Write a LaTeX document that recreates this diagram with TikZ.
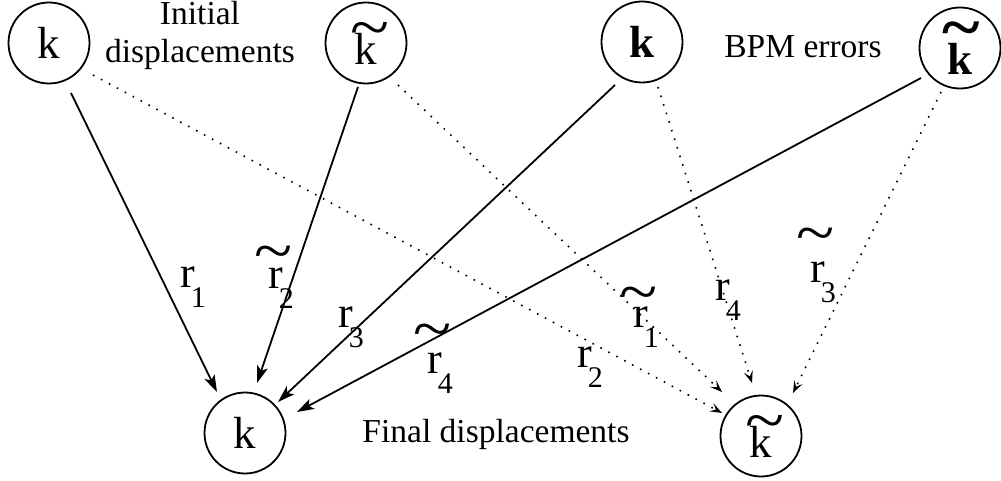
\documentclass[tikz,border=0pt]{standalone}
\usepackage{fontspec}
\setmainfont{Liberation Serif}
\usepackage{graphicx}
\usetikzlibrary{arrows.meta}

\newcommand\myTil{\scalebox{1.6}[1.4]{\textasciitilde}}
\newcommand\myK{{\fontsize{45}{45}\selectfont k}}
\newcommand\myKt[1]{{\fontsize{45}{45}\selectfont\makebox[0pt][l]{\kern-4.7pt\raisebox{#1}{\myTil}}k}}
\newcommand\myR[1]{{\fontsize{44}{44}\selectfont r}\kern-4pt\raisebox{-20pt}{\fontsize{30}{30}\selectfont #1}}
\newcommand\myRt[2]{{\fontsize{44}{44}\selectfont\makebox[0pt][l]{\kern-13.5pt\raisebox{#2}{\myTil}}r}\kern-4pt\raisebox{-20pt}{\fontsize{30}{30}\selectfont #1}}

\tikzset{
  var/.style={circle, draw, line width=1.8pt, minimum size=81pt, inner sep=0pt},
  lbl/.style={inner sep=0pt, anchor=base west},
  txt/.style={inner sep=0pt, anchor=base, font=\fontsize{33.5}{38}\selectfont, align=center},
  sol/.style={line width=1.8pt, -{Stealth[length=17pt,width=11pt,inset=4pt]}},
  dot/.style={line width=1.6pt, dash pattern=on 1.6pt off 7.4pt, -{Stealth[length=12pt,width=9pt,inset=5pt]}},
}

\begin{document}
\begin{tikzpicture}[x=1pt,y=-1pt]
\useasboundingbox (0,0) rectangle (1001,481);

\node[var] (A) at (49,43) {\myK};
\node[var] (B) at (366,43) {\myKt{16pt}};
\node[var] (C) at (642,42) {\bfseries\myK};
\node[var] (D) at (960,48) {\bfseries\myKt{26pt}};
\node[var] (E) at (245,433) {\myK};
\node[var] (F) at (761,436) {\myKt{16pt}};

\node[txt] (init) at (200,63) {Initial\\displacements};
\node[txt] (bpm) at (803,58) {BPM errors};
\node[txt] (fin) at (496,442) {Final displacements};

% solid connectors to final k
\draw[sol] ([shift={(22pt,-50pt)}]A.center) -- ([shift={(-28pt,41pt)}]E.center);
\draw[sol] ([shift={(-8pt,-44pt)}]B.center) -- ([shift={(12pt,50pt)}]E.center);
\draw[sol] ([shift={(-27pt,-43pt)}]C.center) -- ([shift={(33pt,31pt)}]E.center);
\draw[sol] ([shift={(-39pt,-30pt)}]D.center) -- ([shift={(52pt,21pt)}]E.center);

% dotted connectors to final k-tilde
\draw[dot] ([shift={(44pt,-32pt)}]A.center) -- ([shift={(-39pt,23pt)}]F.center);
\draw[dot] ([shift={(32pt,-42pt)}]B.center) -- ([shift={(-39pt,44pt)}]F.center);
\draw[dot] ([shift={(16pt,-45pt)}]C.center) -- ([shift={(-9pt,53pt)}]F.center);
\draw[dot] ([shift={(-19pt,-44pt)}]D.center) -- ([shift={(32pt,43pt)}]F.center);

% labels
\node[lbl] (r1) at (180,287) {\myR{1}};
\node[lbl] (rt2) at (268,288) {\myRt{2}{17pt}};
\node[lbl] (r3) at (338,327) {\myR{3}};
\node[lbl] (rt4) at (427,373) {\myRt{4}{24pt}};
\node[lbl] (r2) at (577,367) {\myR{2}};
\node[lbl] (rt1) at (633,327) {\myRt{1}{15pt}};
\node[lbl] (r4) at (715,300) {\myR{4}};
\node[lbl] (rt3) at (810,282) {\myRt{3}{29pt}};
\end{tikzpicture}
\end{document}
